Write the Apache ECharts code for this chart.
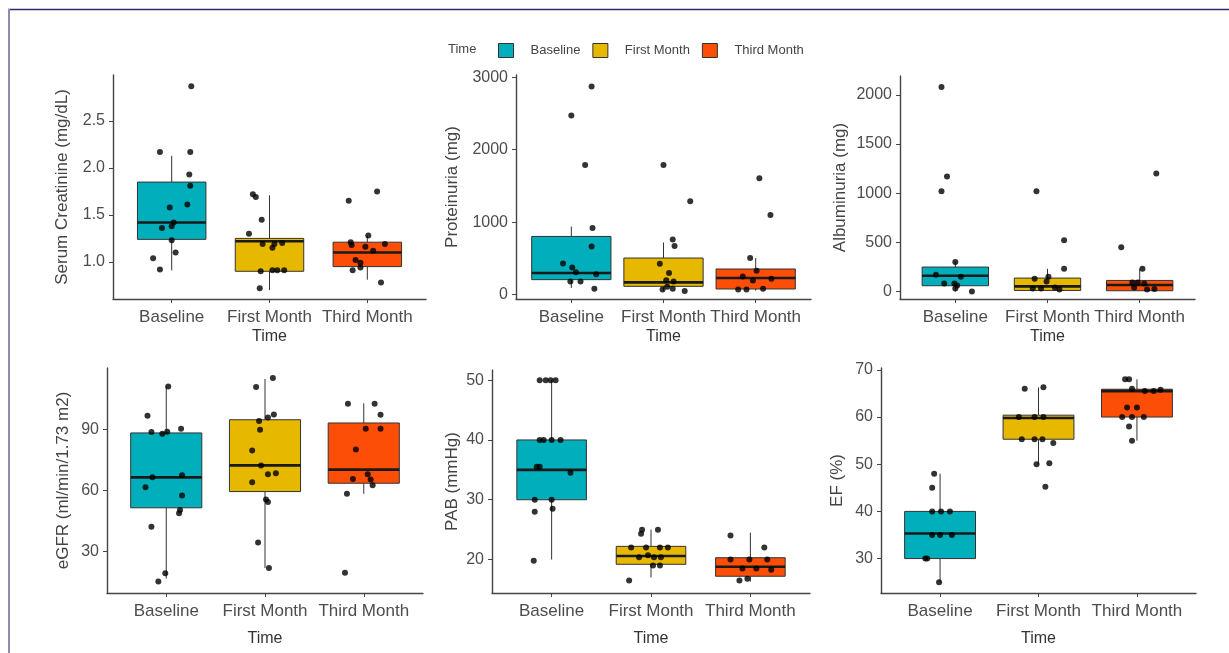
<!DOCTYPE html>
<html>
<head>
<meta charset="utf-8">
<script src="https://cdn.jsdelivr.net/npm/echarts@6/dist/echarts.min.js"></script>
<style>
html,body{margin:0;padding:0;background:#fff;}
#chart{width:1229px;height:653px;}
</style>
</head>
<body>
<div id="chart"></div>
<script>
// ---------- data ----------
const categories = ['Baseline', 'First Month', 'Third Month'];
const legendTitle = 'Time';
const xTitle = 'Time';

// box statistics per category: [lower whisker, Q1, median, Q3, upper whisker]
const creatStats = [[0.91, 1.24, 1.42, 1.85, 2.13], [0.70, 0.90, 1.22, 1.25, 1.71], [0.81, 0.95, 1.10, 1.21, 1.28]];
const creatValues = [
  [2.87, 2.17, 2.17, 1.93, 1.81, 1.61, 1.58, 1.42, 1.36, 1.38, 1.23, 1.10, 1.04, 0.92],
  [1.72, 1.69, 1.45, 1.30, 1.19, 1.19, 1.20, 1.15, 0.91, 0.91, 0.91, 0.90, 0.72],
  [1.65, 1.75, 1.21, 1.18, 1.28, 1.16, 1.19, 1.12, 1.02, 0.99, 0.91, 0.94, 0.78]
];
const creatJitter = [
  [0.20, -0.12, 0.19, 0.18, 0.19, 0.16, -0.02, 0.02, -0.10, 0.00, 0.00, 0.04, -0.19, -0.12],
  [-0.17, -0.14, -0.08, -0.21, -0.07, 0.05, 0.13, 0.03, 0.03, 0.08, 0.15, -0.09, -0.10],
  [-0.19, 0.10, -0.17, -0.16, 0.01, -0.02, 0.18, 0.06, -0.12, -0.07, -0.15, -0.07, 0.14]
];

const protStats = [[92, 207, 298, 803, 940], [50, 115, 170, 505, 720], [55, 78, 230, 354, 505]];
const protValues = [
  [2870, 2470, 1790, 920, 665, 430, 375, 310, 180, 180, 280, 80],
  [1790, 1290, 760, 670, 425, 300, 200, 180, 70, 80, 50, 110],
  [1607, 1100, 505, 330, 250, 195, 220, 70, 70, 80]
];
const protJitter = [
  [0.22, 0.00, 0.15, 0.23, 0.22, -0.09, 0.01, 0.05, -0.01, 0.10, 0.27, 0.25],
  [0.00, 0.29, 0.10, 0.12, -0.04, 0.06, 0.03, 0.11, -0.01, 0.10, 0.23, 0.04],
  [0.04, 0.16, -0.06, 0.01, -0.14, -0.03, 0.17, -0.19, -0.10, 0.08]
];

const albStats = [[0, 58, 160, 248, 300], [5, 10, 51, 136, 230], [5, 7, 65, 112, 230]];
const albValues = [
  [2080, 1170, 1020, 300, 170, 150, 80, 80, 60, 30, 0],
  [1020, 520, 230, 130, 100, 150, 30, 30, 40, 20],
  [1200, 450, 230, 90, 90, 80, 40, 20, 25]
];
const albJitter = [
  [-0.15, -0.09, -0.15, 0.00, -0.21, 0.06, -0.12, -0.01, 0.02, 0.00, 0.18],
  [-0.12, 0.18, 0.18, -0.14, -0.01, 0.01, -0.16, -0.07, 0.08, 0.13],
  [0.18, -0.20, 0.03, -0.08, -0.02, 0.05, -0.06, 0.08, 0.16]
];

const egfrStats = [[16.6, 51.5, 66.5, 88.4, 111.3], [21.8, 59.5, 72.4, 94.9, 115], [58.4, 63.6, 70.3, 93.3, 103]];
const egfrValues = [
  [111.3, 96.9, 88.9, 88.0, 89.0, 90.5, 66.5, 67.5, 61.6, 57.5, 50.4, 48.8, 42.2, 19.2, 15.2],
  [111.0, 115.5, 96.0, 94.3, 97.5, 90.0, 79.7, 72.4, 68.0, 68.5, 64.1, 55.6, 54.3, 34.4, 21.8],
  [102.8, 102.8, 97.4, 90.5, 90.5, 80.2, 65.7, 68.0, 65.5, 62.6, 58.4, 19.5]
];
const egfrJitter = [
  [0.02, -0.19, -0.15, -0.04, 0.01, 0.15, -0.14, 0.16, -0.21, 0.16, 0.14, 0.13, -0.15, -0.01, -0.08],
  [-0.09, 0.08, 0.03, -0.06, 0.09, -0.05, -0.13, -0.04, 0.03, 0.11, -0.13, 0.01, 0.03, -0.07, 0.04],
  [-0.16, 0.11, 0.17, 0.02, 0.17, -0.08, -0.11, 0.04, 0.07, 0.09, -0.17, -0.19]
];

const pabStats = [[20, 30, 35, 40, 50], [17, 19.2, 20.6, 22.2, 25], [16.3, 17.2, 18.8, 20.3, 24.5]];
const pabValues = [
  [50, 50, 50, 50, 40, 40, 40, 40, 35.5, 35.5, 34.5, 30, 30, 28, 28.5, 19.8],
  [25, 25, 24.3, 22, 22, 22, 22, 20.4, 20.7, 20.4, 20.4, 19, 19, 16.5],
  [24, 22, 20, 20, 20, 18.5, 18.5, 18.3, 16.5, 16.8]
];
const pabJitter = [
  [-0.12, -0.06, -0.01, 0.04, -0.12, -0.08, 0.00, 0.09, -0.15, -0.12, 0.19, -0.17, 0.00, -0.17, 0.01, -0.18],
  [-0.09, 0.07, -0.10, -0.20, -0.05, 0.09, 0.17, -0.12, -0.03, 0.03, 0.10, 0.02, 0.09, -0.22],
  [-0.20, 0.14, -0.20, -0.01, 0.17, -0.08, 0.06, 0.21, -0.11, -0.03]
];

const efStats = [[25, 30, 35.3, 40, 48], [50, 55.3, 59.8, 60.4, 66.3], [55, 60, 65.5, 65.9, 68]];
const efValues = [
  [48, 45, 40, 40, 40, 35, 35, 35, 30, 30, 25],
  [66, 66.3, 60, 60, 60, 55.3, 55.3, 55.3, 54.5, 50, 50.2, 45.2],
  [68, 68, 66, 65.5, 65.5, 65.8, 62, 62, 60, 60, 60, 58, 55]
];
const efJitter = [
  [-0.06, -0.08, -0.08, 0.01, 0.10, -0.08, 0.00, 0.12, -0.15, -0.13, -0.01],
  [-0.14, 0.05, -0.20, -0.04, 0.05, -0.17, -0.04, 0.04, 0.15, -0.02, 0.11, 0.07],
  [-0.12, -0.08, -0.05, 0.08, 0.17, 0.24, -0.10, 0.00, -0.15, -0.05, 0.07, -0.08, -0.05]
];

const yTitles = ['Serum Creatinine (mg/dL)', 'Proteinuria (mg)', 'Albuminuria (mg)', 'eGFR (ml/min/1.73 m2)', 'PAB (mmHg)', 'EF (%)'];
const yTicks = [[1.0, 1.5, 2.0, 2.5], [0, 1000, 2000, 3000], [0, 500, 1000, 1500, 2000], [30, 60, 90], [20, 30, 40, 50], [30, 40, 50, 60, 70]];

// ---------- layout / style ----------
const colors = ['#00AFBB', '#E7B800', '#FC4E07'];
const panels = [
  { stats: creatStats, values: creatValues, jitter: creatJitter, grid: { left: 113, top: 75, width: 313, height: 224 }, yMin: 0.605, yMax: 2.99, boxW: 0.70, nameGap: 42, xNameGap: 30, dec: 1 },
  { stats: protStats, values: protValues, jitter: protJitter, grid: { left: 516, top: 75, width: 295, height: 224 }, yMin: -60, yMax: 3030, boxW: 0.86, nameGap: 55, xNameGap: 30, dec: 0 },
  { stats: albStats, values: albValues, jitter: albJitter, grid: { left: 900, top: 76, width: 295, height: 223 }, yMin: -77, yMax: 2192, boxW: 0.72, nameGap: 51, xNameGap: 30, dec: 0 },
  { stats: egfrStats, values: egfrValues, jitter: egfrJitter, grid: { left: 107, top: 368, width: 316, height: 225 }, yMin: 9.5, yMax: 120.4, boxW: 0.72, nameGap: 35, xNameGap: 38, dec: 0 },
  { stats: pabStats, values: pabValues, jitter: pabJitter, grid: { left: 492, top: 370, width: 318, height: 223 }, yMin: 14.4, yMax: 51.7, boxW: 0.70, nameGap: 31, xNameGap: 38, dec: 0 },
  { stats: efStats, values: efValues, jitter: efJitter, grid: { left: 881, top: 368, width: 315, height: 225 }, yMin: 22.7, yMax: 70.4, boxW: 0.72, nameGap: 35, xNameGap: 38, dec: 0 }
];

const FONT = 'Liberation Sans, Arial, sans-serif';
const axisColor = '#444';
const tickTextColor = '#4d4d4d';

const grids = [], xAxes = [], yAxes = [], series = [];

panels.forEach((p, i) => {
  grids.push(Object.assign({}, p.grid));
  xAxes.push({
    type: 'value', gridIndex: i, min: 0.4, max: 3.6,
    name: xTitle, nameLocation: 'middle', nameGap: p.xNameGap,
    nameTextStyle: { fontSize: 16, color: '#333', fontFamily: FONT },
    axisLine: { show: true, onZero: false, lineStyle: { color: axisColor, width: 1.4 } },
    axisTick: { show: true, length: 4, customValues: [1, 2, 3], lineStyle: { color: axisColor, width: 1 } },
    axisLabel: { customValues: [1, 2, 3], margin: 10, fontSize: 17, color: tickTextColor, fontFamily: FONT,
      formatter: v => categories[Math.round(v) - 1] || '' },
    splitLine: { show: false }
  });
  yAxes.push({
    type: 'value', gridIndex: i, min: p.yMin, max: p.yMax,
    name: yTitles[i], nameLocation: 'middle', nameGap: p.nameGap, nameRotate: 90,
    nameTextStyle: { fontSize: 17, color: '#444', fontFamily: FONT },
    axisLine: { show: true, onZero: false, lineStyle: { color: axisColor, width: 1.4 } },
    axisTick: { show: true, length: 4, customValues: yTicks[i], lineStyle: { color: axisColor, width: 1 } },
    axisLabel: { customValues: yTicks[i], margin: 8, fontSize: 16, color: tickTextColor, fontFamily: FONT,
      formatter: v => v.toFixed(p.dec) },
    splitLine: { show: false }
  });

  const boxW = p.boxW;
  categories.forEach((cat, c) => {
    series.push({
      type: 'custom', name: cat, xAxisIndex: i, yAxisIndex: i,
      itemStyle: { color: colors[c] },
      encode: { x: 0, y: [1, 2, 3, 4, 5] },
      data: [[c + 1].concat(p.stats[c])],
      z: 2,
      renderItem: function (params, api) {
        const x = api.value(0);
        const pMin = api.coord([x, api.value(1)]);
        const pQ1 = api.coord([x - boxW / 2, api.value(2)]);
        const pMedL = api.coord([x - boxW / 2, api.value(3)]);
        const pMedR = api.coord([x + boxW / 2, api.value(3)]);
        const pQ3 = api.coord([x + boxW / 2, api.value(4)]);
        const pMax = api.coord([x, api.value(5)]);
        const cx = pMin[0];
        const stroke = '#333';
        return {
          type: 'group',
          children: [
            { type: 'line', shape: { x1: cx, y1: pMin[1], x2: cx, y2: pQ1[1] }, style: { stroke: stroke, lineWidth: 1 } },
            { type: 'line', shape: { x1: cx, y1: pQ3[1], x2: cx, y2: pMax[1] }, style: { stroke: stroke, lineWidth: 1 } },
            { type: 'rect', shape: { x: pQ1[0], y: pQ3[1], width: pQ3[0] - pQ1[0], height: pQ1[1] - pQ3[1] },
              style: { fill: api.visual('color'), stroke: stroke, lineWidth: 1 } },
            { type: 'line', shape: { x1: pMedL[0], y1: pMedL[1], x2: pMedR[0], y2: pMedR[1] }, style: { stroke: '#1a1a1a', lineWidth: 2.6 } }
          ]
        };
      }
    });
  });

  const pts = [];
  p.values.forEach((arr, c) => {
    arr.forEach((v, k) => pts.push([c + 1 + p.jitter[c][k], v]));
  });
  series.push({
    type: 'scatter', name: 'points', xAxisIndex: i, yAxisIndex: i,
    data: pts, symbolSize: 6, itemStyle: { color: '#000' }, z: 5, silent: true
  });
});

const chart = echarts.init(document.getElementById('chart'), null, { renderer: 'canvas' });
chart.setOption({
  animation: false,
  backgroundColor: '#fff',
  title: { text: legendTitle, left: 443, top: 38, textStyle: { fontSize: 13, fontWeight: 'normal', color: '#444', fontFamily: FONT } },
  legend: {
    left: 493, top: 38, itemWidth: 15, itemHeight: 14, itemGap: 12,
    data: categories.map(c => ({ name: c, icon: 'rect' })),
    itemStyle: { borderColor: '#333', borderWidth: 1 },
    textStyle: { fontSize: 13, color: '#444', fontFamily: FONT, padding: [0, 0, 0, 12] }
  },
  grid: grids, xAxis: xAxes, yAxis: yAxes, series: series,
  graphic: [
    { type: 'line', shape: { x1: 8, y1: 9.5, x2: 1229, y2: 9.5 }, style: { stroke: '#2b2d6b', lineWidth: 1.4 } },
    { type: 'line', shape: { x1: 9, y1: 9, x2: 9, y2: 653 }, style: { stroke: '#8c8cb0', lineWidth: 2 } }
  ]
});
</script>
</body>
</html>
